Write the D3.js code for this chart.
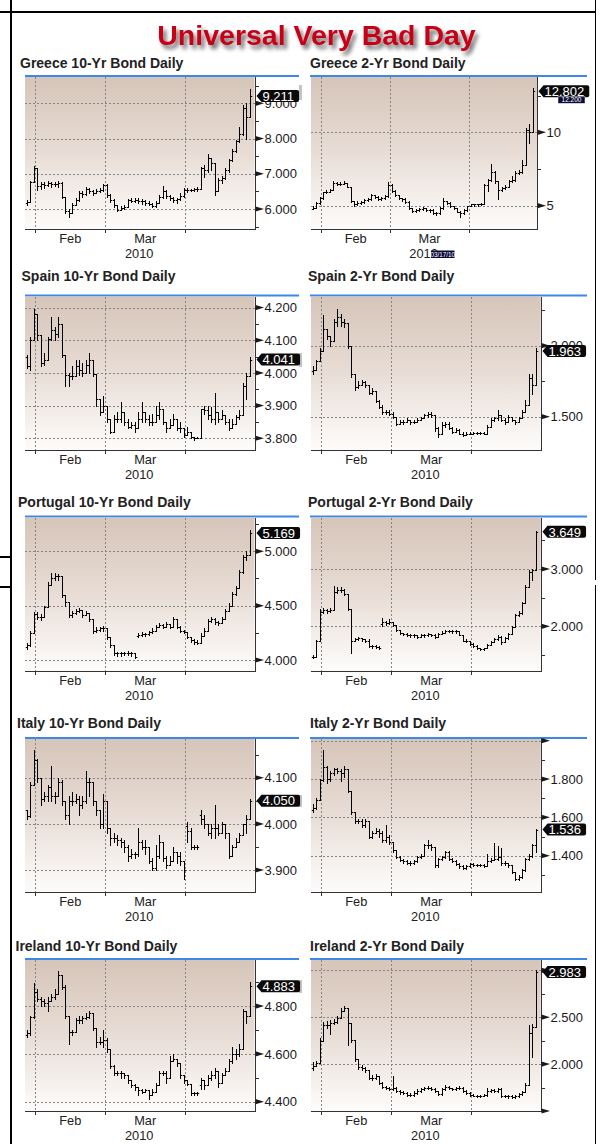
<!DOCTYPE html>
<html><head><meta charset="utf-8">
<script src="https://cdn.jsdelivr.net/npm/d3@7"></script>
<style>html,body{margin:0;padding:0;background:#fff;}svg{display:block;font-family:"Liberation Sans",Arial,Helvetica,sans-serif;}</style>
</head><body>
<svg id="c" width="603" height="1144"></svg>
<script>
// ---------- categories ----------
const dates = ["2010-01-27","2010-01-28","2010-01-29",
"2010-02-01","2010-02-02","2010-02-03","2010-02-04","2010-02-05","2010-02-08","2010-02-09","2010-02-10","2010-02-11","2010-02-12",
"2010-02-15","2010-02-16","2010-02-17","2010-02-18","2010-02-19","2010-02-22","2010-02-23","2010-02-24","2010-02-25","2010-02-26",
"2010-03-01","2010-03-02","2010-03-03","2010-03-04","2010-03-05","2010-03-08","2010-03-09","2010-03-10","2010-03-11","2010-03-12",
"2010-03-15","2010-03-16","2010-03-17","2010-03-18","2010-03-19","2010-03-22","2010-03-23","2010-03-24","2010-03-25","2010-03-26",
"2010-03-29","2010-03-30","2010-03-31",
"2010-04-01","2010-04-02","2010-04-05","2010-04-06","2010-04-07","2010-04-08","2010-04-09","2010-04-12","2010-04-13","2010-04-14",
"2010-04-15","2010-04-16","2010-04-19","2010-04-20","2010-04-21","2010-04-22","2010-04-23","2010-04-26","2010-04-27"];
const monthStarts = ["2010-02-01","2010-03-01","2010-04-01"];
const monthLabels = ["Feb","Mar"];
const yearLabel = "2010";
const chartTitle = "Universal Very Bad Day";

// ---------- Greece 10-Yr ----------
const greece10Close = [6.21,6.78,7.15,6.65,6.72,6.68,6.74,6.70,6.72,6.75,6.35,5.95,5.88,6.12,6.25,6.45,6.42,6.58,6.50,6.45,6.52,6.55,6.68,6.40,6.25,6.10,5.98,6.02,6.05,6.25,6.24,6.26,6.22,6.24,6.18,6.15,6.08,6.18,6.35,6.52,6.38,6.32,6.25,6.28,6.38,6.55,6.55,6.55,6.56,6.58,7.15,7.12,7.45,7.30,6.50,6.82,6.88,7.10,7.38,7.65,7.92,8.12,8.88,8.60,9.211];
const greece10High = [6.25,6.80,7.22,7.05,6.78,6.78,6.80,6.78,6.76,6.80,6.78,6.12,6.00,6.18,6.30,6.50,6.50,6.62,6.60,6.55,6.58,6.60,6.72,6.70,6.42,6.28,6.12,6.08,6.10,6.28,6.30,6.32,6.30,6.28,6.26,6.22,6.18,6.22,6.40,6.65,6.55,6.40,6.35,6.32,6.45,6.60,6.60,6.58,6.60,6.62,7.20,7.25,7.55,7.45,7.10,6.88,6.95,7.15,7.42,7.70,7.95,8.34,8.95,9.00,9.40];
const greece10Low = [6.12,6.20,6.78,6.55,6.58,6.60,6.65,6.62,6.64,6.62,6.30,5.88,5.78,5.92,6.10,6.22,6.35,6.40,6.45,6.40,6.44,6.48,6.50,6.35,6.20,6.05,5.95,5.96,6.00,6.05,6.20,6.20,6.18,6.15,6.12,6.10,6.05,6.06,6.16,6.30,6.32,6.26,6.20,6.18,6.25,6.35,6.48,6.50,6.52,6.52,6.58,6.90,7.05,7.10,6.40,6.50,6.75,6.85,7.05,7.35,7.62,7.90,8.10,8.00,8.60];
const greece10Gaps = {0: 6.18};

// ---------- Greece 2-Yr ----------
const greece2Close = [4.85,5.20,5.50,5.90,5.95,6.07,6.57,6.50,6.50,6.57,6.30,5.30,5.10,5.20,5.25,5.40,5.45,5.73,5.62,5.45,5.50,5.65,6.40,6.00,5.70,5.50,5.45,5.27,4.82,4.66,4.70,4.77,4.82,4.70,4.70,4.48,4.48,4.82,5.30,5.20,4.95,4.82,4.60,4.50,4.70,4.95,5.10,5.10,5.10,5.15,6.40,6.75,7.30,6.65,6.10,6.20,6.30,6.65,6.75,7.20,7.30,7.80,10.15,10.05,12.802];
const greece2High = [4.95,5.25,5.60,5.95,6.05,6.15,6.65,6.60,6.62,6.65,6.55,5.90,5.35,5.30,5.35,5.45,5.55,5.80,5.75,5.65,5.60,5.75,6.64,6.45,6.05,5.75,5.55,5.50,5.30,4.85,4.80,4.85,4.90,4.85,4.80,4.75,4.60,4.90,5.55,5.35,5.25,5.00,4.85,4.65,4.75,5.00,5.15,5.15,5.15,5.20,6.50,6.85,7.84,7.35,6.70,6.30,6.40,6.75,7.05,7.35,7.45,8.10,10.30,10.57,13.00];
const greece2Low = [4.75,4.85,5.15,5.45,5.85,5.90,6.05,6.40,6.40,6.45,6.25,5.25,5.00,5.05,5.15,5.20,5.35,5.40,5.55,5.40,5.40,5.45,5.60,5.95,5.65,5.45,5.35,5.20,4.75,4.60,4.60,4.65,4.70,4.65,4.60,4.45,4.40,4.45,4.80,5.10,4.90,4.75,4.55,4.25,4.45,4.65,4.95,5.00,5.00,5.05,5.10,6.00,6.70,6.55,5.44,6.00,6.15,6.25,6.60,6.70,7.15,7.25,7.75,9.25,10.05];
const greece2Gaps = {0: 4.80};

// ---------- Spain 10-Yr ----------
const spain10Close = [4.02,4.10,4.18,4.115,4.03,4.04,4.105,4.13,4.12,4.15,4.055,3.995,3.99,3.99,4.02,4.01,4.00,4.025,4.04,3.998,3.92,3.88,3.90,3.86,3.82,3.86,3.86,3.88,3.85,3.835,3.84,3.83,3.86,3.88,3.86,3.85,3.85,3.87,3.89,3.85,3.83,3.84,3.86,3.83,3.83,3.81,3.82,3.805,3.80,3.80,3.89,3.885,3.87,3.86,3.88,3.86,3.87,3.85,3.83,3.845,3.865,3.87,3.96,3.99,4.041];
const spain10High = [4.055,4.11,4.195,4.15,4.11,4.06,4.11,4.17,4.14,4.17,4.14,4.04,4.00,4.02,4.04,4.04,4.03,4.04,4.06,4.04,3.99,3.92,3.93,3.89,3.86,3.87,3.88,3.91,3.88,3.86,3.85,3.85,3.88,3.91,3.88,3.87,3.875,3.90,3.91,3.89,3.85,3.86,3.875,3.86,3.85,3.83,3.835,3.82,3.805,3.805,3.89,3.90,3.90,3.895,3.94,3.88,3.885,3.87,3.86,3.86,3.87,3.885,3.97,4.00,4.05];
const spain10Low = [4.015,4.01,4.12,4.10,4.02,4.025,4.04,4.10,4.10,4.11,4.05,3.96,3.96,3.98,3.99,3.995,3.99,4.00,4.00,3.99,3.90,3.87,3.88,3.85,3.815,3.83,3.85,3.85,3.84,3.83,3.83,3.82,3.84,3.85,3.85,3.84,3.84,3.85,3.86,3.845,3.82,3.83,3.84,3.825,3.82,3.805,3.81,3.80,3.795,3.80,3.84,3.875,3.86,3.85,3.845,3.85,3.86,3.845,3.825,3.84,3.86,3.86,3.87,3.92,3.99];
const spain10Gaps = {0: 4.05};

// ---------- Spain 2-Yr ----------
const spain2Close = [1.83,1.89,1.96,2.12,2.07,2.03,2.17,2.20,2.17,2.16,2.00,1.80,1.71,1.72,1.745,1.72,1.67,1.68,1.61,1.57,1.53,1.535,1.52,1.50,1.45,1.46,1.46,1.475,1.46,1.46,1.48,1.49,1.51,1.52,1.51,1.42,1.38,1.44,1.45,1.42,1.395,1.405,1.38,1.37,1.38,1.38,1.385,1.385,1.385,1.38,1.43,1.48,1.49,1.51,1.48,1.46,1.50,1.48,1.46,1.49,1.53,1.58,1.77,1.72,1.963];
const spain2High = [1.86,1.90,1.98,2.215,2.12,2.07,2.19,2.256,2.22,2.19,2.16,1.99,1.80,1.75,1.76,1.75,1.72,1.70,1.68,1.62,1.58,1.55,1.55,1.53,1.50,1.48,1.48,1.49,1.48,1.48,1.49,1.50,1.52,1.535,1.53,1.51,1.43,1.46,1.46,1.46,1.43,1.42,1.41,1.39,1.39,1.39,1.39,1.39,1.39,1.39,1.44,1.49,1.50,1.545,1.51,1.49,1.51,1.50,1.48,1.50,1.55,1.62,1.80,1.80,1.98];
const spain2Low = [1.80,1.83,1.89,1.96,2.05,2.00,2.03,2.14,2.14,2.13,1.98,1.78,1.69,1.70,1.72,1.71,1.66,1.66,1.60,1.56,1.52,1.52,1.51,1.49,1.44,1.445,1.45,1.46,1.45,1.455,1.46,1.48,1.49,1.50,1.50,1.40,1.36,1.38,1.43,1.41,1.385,1.39,1.375,1.365,1.37,1.375,1.38,1.38,1.38,1.375,1.38,1.43,1.47,1.48,1.47,1.45,1.46,1.47,1.45,1.46,1.49,1.53,1.58,1.66,1.72];
const spain2Gaps = {0: 1.82};

// ---------- Portugal 10-Yr ----------
const portugal10Close = [4.14,4.25,4.42,4.40,4.40,4.49,4.69,4.75,4.77,4.77,4.60,4.53,4.41,4.43,4.45,4.46,4.41,4.43,4.38,4.27,4.28,4.29,4.29,4.21,4.14,4.06,4.06,4.06,4.06,4.065,4.06,4.03,4.23,4.24,4.24,4.26,4.27,4.30,4.32,4.30,4.33,4.30,4.38,4.30,4.27,4.26,4.21,4.18,4.17,4.16,4.22,4.27,4.36,4.38,4.35,4.34,4.38,4.45,4.50,4.61,4.66,4.81,4.95,4.97,5.169];
const portugal10High = [4.16,4.27,4.44,4.44,4.42,4.50,4.72,4.80,4.80,4.79,4.77,4.60,4.53,4.45,4.47,4.48,4.46,4.45,4.43,4.38,4.30,4.30,4.31,4.29,4.21,4.14,4.07,4.07,4.07,4.08,4.07,4.06,4.25,4.26,4.25,4.27,4.29,4.32,4.34,4.33,4.35,4.33,4.40,4.38,4.31,4.28,4.26,4.21,4.19,4.18,4.25,4.29,4.38,4.40,4.39,4.36,4.40,4.47,4.52,4.63,4.68,4.83,4.97,5.00,5.20];
const portugal10Low = [4.10,4.13,4.25,4.38,4.37,4.40,4.49,4.69,4.74,4.74,4.58,4.50,4.40,4.40,4.42,4.44,4.40,4.41,4.36,4.25,4.26,4.27,4.27,4.19,4.12,4.05,4.04,4.04,4.05,4.05,4.04,4.02,4.21,4.22,4.22,4.23,4.25,4.27,4.30,4.29,4.30,4.29,4.30,4.29,4.26,4.25,4.20,4.17,4.15,4.15,4.16,4.22,4.27,4.35,4.33,4.32,4.34,4.38,4.45,4.50,4.60,4.66,4.80,4.92,4.97];
const portugal10Gaps = {0: 4.12, 32: 4.22};

// ---------- Portugal 2-Yr ----------
const portugal2Close = [1.47,1.74,2.25,2.28,2.26,2.28,2.60,2.63,2.63,2.57,2.31,1.75,1.77,1.79,1.77,1.75,1.65,1.65,1.64,1.62,2.08,2.05,2.08,2.02,1.94,1.88,1.86,1.85,1.84,1.84,1.82,1.84,1.84,1.86,1.85,1.82,1.86,1.89,1.91,1.92,1.91,1.91,1.85,1.75,1.74,1.69,1.66,1.62,1.60,1.62,1.67,1.73,1.77,1.82,1.73,1.79,1.87,1.99,2.20,2.23,2.40,2.69,2.95,2.98,3.649];
const portugal2High = [1.50,1.76,2.30,2.32,2.30,2.32,2.70,2.68,2.68,2.65,2.57,2.31,1.80,1.82,1.80,1.78,1.77,1.67,1.67,1.66,2.14,2.10,2.12,2.08,2.02,1.94,1.89,1.88,1.86,1.86,1.85,1.86,1.86,1.88,1.87,1.86,1.88,1.91,1.93,1.94,1.93,1.93,1.92,1.85,1.77,1.75,1.70,1.67,1.63,1.63,1.69,1.75,1.80,1.84,1.83,1.81,1.89,2.01,2.22,2.26,2.43,2.72,2.98,3.00,3.67];
const portugal2Low = [1.44,1.47,1.74,2.24,2.23,2.25,2.28,2.58,2.60,2.55,2.29,1.53,1.74,1.76,1.75,1.73,1.64,1.63,1.62,1.61,2.00,2.03,2.04,2.00,1.92,1.86,1.84,1.83,1.82,1.82,1.80,1.81,1.82,1.83,1.83,1.80,1.82,1.86,1.88,1.90,1.89,1.89,1.84,1.74,1.72,1.68,1.64,1.60,1.58,1.59,1.62,1.67,1.73,1.76,1.69,1.72,1.78,1.87,1.98,2.18,2.22,2.40,2.69,2.80,2.98];
const portugal2Gaps = {0: 1.46, 20: 2.04};

// ---------- Italy 10-Yr ----------
const italy10Close = [4.017,4.084,4.138,4.10,4.055,4.06,4.08,4.06,4.06,4.09,4.05,4.02,4.05,4.05,4.055,4.04,4.05,4.09,4.09,4.05,4.03,4.00,4.05,3.99,3.97,3.97,3.965,3.96,3.95,3.93,3.935,3.935,3.96,3.95,3.95,3.92,3.905,3.93,3.96,3.925,3.91,3.92,3.94,3.93,3.92,3.90,3.985,3.95,3.95,3.95,4.01,4.00,3.98,3.99,3.99,3.98,4.00,3.98,3.93,3.95,3.96,3.975,4.00,4.01,4.050];
const italy10High = [4.03,4.09,4.16,4.14,4.10,4.07,4.085,4.125,4.07,4.10,4.095,4.05,4.06,4.07,4.065,4.06,4.06,4.115,4.10,4.09,4.05,4.03,4.065,4.05,3.99,3.98,3.975,3.97,3.965,3.955,3.945,3.94,3.99,3.965,3.965,3.95,3.925,3.955,3.975,3.96,3.93,3.93,3.95,3.94,3.94,3.92,4.005,3.99,3.955,3.955,4.03,4.02,4.00,4.00,4.04,4.00,4.005,4.00,3.98,3.955,3.97,3.98,4.00,4.02,4.055];
const italy10Low = [4.01,4.015,4.085,4.09,4.04,4.05,4.05,4.05,4.045,4.06,4.04,4.01,4.00,4.04,4.045,4.02,4.035,4.045,4.06,4.04,4.02,3.99,3.99,3.98,3.955,3.96,3.955,3.95,3.94,3.92,3.925,3.925,3.93,3.945,3.935,3.915,3.90,3.90,3.925,3.92,3.905,3.91,3.92,3.915,3.91,3.88,3.96,3.945,3.945,3.945,4.00,3.99,3.975,3.97,3.97,3.975,3.98,3.97,3.925,3.93,3.95,3.96,3.975,3.98,4.01];
const italy10Gaps = {0: 4.03, 46: 3.995, 50: 4.02};

// ---------- Italy 2-Yr ----------
const italy2Close = [1.647,1.69,1.795,1.865,1.80,1.83,1.85,1.84,1.83,1.85,1.74,1.63,1.58,1.58,1.56,1.58,1.50,1.52,1.53,1.52,1.48,1.50,1.47,1.43,1.395,1.38,1.37,1.36,1.36,1.37,1.395,1.40,1.455,1.455,1.445,1.35,1.385,1.395,1.42,1.385,1.37,1.355,1.345,1.335,1.345,1.355,1.35,1.35,1.35,1.345,1.37,1.38,1.385,1.395,1.36,1.36,1.35,1.315,1.28,1.29,1.325,1.385,1.40,1.455,1.536];
const italy2High = [1.67,1.70,1.80,1.95,1.87,1.84,1.86,1.86,1.85,1.87,1.85,1.74,1.63,1.59,1.59,1.59,1.58,1.53,1.545,1.54,1.53,1.56,1.51,1.47,1.43,1.40,1.385,1.375,1.37,1.38,1.40,1.41,1.46,1.48,1.46,1.445,1.39,1.40,1.425,1.425,1.39,1.375,1.36,1.35,1.35,1.36,1.36,1.355,1.355,1.355,1.41,1.39,1.465,1.45,1.44,1.37,1.36,1.35,1.315,1.30,1.33,1.39,1.41,1.46,1.54];
const italy2Low = [1.63,1.645,1.69,1.79,1.78,1.79,1.82,1.83,1.79,1.81,1.73,1.62,1.57,1.57,1.55,1.55,1.49,1.49,1.52,1.50,1.47,1.47,1.46,1.42,1.39,1.37,1.36,1.355,1.35,1.355,1.365,1.39,1.40,1.44,1.43,1.34,1.34,1.38,1.39,1.38,1.365,1.35,1.335,1.33,1.33,1.34,1.345,1.345,1.345,1.34,1.345,1.365,1.375,1.38,1.35,1.35,1.34,1.31,1.275,1.275,1.285,1.32,1.38,1.395,1.42];
const italy2Gaps = {0: 1.64};

// ---------- Ireland 10-Yr ----------
const ireland10Close = [4.686,4.753,4.86,4.83,4.82,4.815,4.82,4.84,4.85,4.93,4.88,4.76,4.69,4.69,4.74,4.74,4.75,4.755,4.77,4.71,4.65,4.65,4.66,4.62,4.55,4.52,4.52,4.52,4.51,4.49,4.47,4.46,4.45,4.44,4.45,4.43,4.44,4.47,4.52,4.52,4.50,4.57,4.58,4.56,4.51,4.49,4.475,4.435,4.435,4.435,4.49,4.47,4.50,4.51,4.53,4.48,4.51,4.53,4.57,4.60,4.60,4.62,4.78,4.76,4.883];
const ireland10High = [4.70,4.76,4.895,4.87,4.84,4.83,4.84,4.85,4.87,4.945,4.93,4.89,4.76,4.70,4.75,4.76,4.76,4.77,4.78,4.77,4.71,4.67,4.70,4.665,4.62,4.555,4.53,4.53,4.52,4.51,4.49,4.475,4.46,4.455,4.455,4.45,4.455,4.48,4.53,4.53,4.53,4.59,4.60,4.58,4.56,4.51,4.49,4.475,4.44,4.44,4.50,4.49,4.51,4.53,4.54,4.53,4.52,4.54,4.58,4.63,4.62,4.64,4.79,4.78,4.90];
const ireland10Low = [4.67,4.68,4.75,4.82,4.80,4.80,4.78,4.82,4.83,4.85,4.87,4.75,4.64,4.68,4.69,4.73,4.73,4.745,4.75,4.70,4.63,4.64,4.63,4.61,4.54,4.51,4.51,4.50,4.50,4.48,4.46,4.45,4.43,4.435,4.44,4.41,4.43,4.44,4.47,4.51,4.48,4.50,4.57,4.55,4.50,4.48,4.47,4.43,4.43,4.43,4.455,4.455,4.47,4.49,4.50,4.46,4.495,4.51,4.53,4.56,4.58,4.59,4.62,4.73,4.76];
const ireland10Gaps = {0: 4.68, 50: 4.47};

// ---------- Ireland 2-Yr ----------
const ireland2Close = [1.98,2.01,2.25,2.42,2.42,2.44,2.45,2.49,2.57,2.60,2.44,2.26,2.05,1.97,1.96,1.94,1.85,1.85,1.87,1.80,1.76,1.74,1.73,1.74,1.71,1.70,1.69,1.67,1.67,1.69,1.71,1.73,1.74,1.75,1.73,1.71,1.68,1.73,1.76,1.74,1.73,1.74,1.75,1.71,1.69,1.67,1.665,1.655,1.665,1.67,1.71,1.72,1.71,1.73,1.655,1.655,1.655,1.65,1.655,1.68,1.70,1.78,2.33,2.40,2.983];
const ireland2High = [2.02,2.03,2.28,2.45,2.46,2.47,2.48,2.51,2.60,2.62,2.60,2.44,2.26,2.05,1.99,1.97,1.94,1.88,1.89,1.87,1.81,1.77,1.76,1.87,1.76,1.72,1.71,1.70,1.69,1.71,1.73,1.75,1.76,1.77,1.76,1.74,1.71,1.74,1.78,1.77,1.75,1.76,1.77,1.76,1.72,1.70,1.68,1.67,1.67,1.68,1.74,1.73,1.73,1.75,1.74,1.67,1.67,1.67,1.67,1.69,1.71,1.80,2.42,2.43,3.00];
const ireland2Low = [1.94,1.98,2.01,2.25,2.38,2.32,2.43,2.44,2.49,2.57,2.20,2.24,2.03,1.95,1.94,1.92,1.84,1.83,1.84,1.79,1.75,1.73,1.72,1.72,1.70,1.68,1.68,1.66,1.66,1.66,1.68,1.70,1.72,1.73,1.72,1.70,1.67,1.67,1.72,1.73,1.72,1.72,1.73,1.70,1.68,1.66,1.655,1.645,1.65,1.655,1.66,1.70,1.70,1.70,1.645,1.645,1.64,1.64,1.64,1.65,1.67,1.70,1.78,2.08,2.40];
const ireland2Gaps = {0: 1.96};

// ---------- axis tick values ----------
const greece10Ticks = [6,7,8,9],            greece10Minor = [5.5,6.5,7.5,8.5,9.5];
const greece2Ticks = [5,10],                greece2Minor = [7.5,12.5];
const spain10Ticks = [3.8,3.9,4.0,4.1,4.2], spain10Minor = [3.85,3.95,4.05,4.15];
const spain2Ticks = [1.5,2.0],              spain2Minor = [1.75,2.25];
const portugal10Ticks = [4.0,4.5,5.0],      portugal10Minor = [4.25,4.75,5.25];
const portugal2Ticks = [2,3],               portugal2Minor = [1.5,2.5,3.5];
const italy10Ticks = [3.9,4.0,4.1],         italy10Minor = [3.95,4.05,4.15];
const italy2Ticks = [1.4,1.6,1.8,2.0],      italy2Minor = [1.3,1.5,1.7,1.9];
const ireland10Ticks = [4.4,4.6,4.8],       ireland10Minor = [4.5,4.7,4.9];
const ireland2Ticks = [1.5,2.0,2.5,3.0],    ireland2Minor = [1.75,2.25,2.75];

const panels = [
 {title:"Greece 10-Yr Bond Daily",   c:greece10Close,  h:greece10High,  l:greece10Low,  g:greece10Gaps,  major:greece10Ticks,  minor:greece10Minor,  fmt:".3f", domain:[5.432,9.747], row:0,col:0,tx:20},
 {title:"Greece 2-Yr Bond Daily",    c:greece2Close,   h:greece2High,   l:greece2Low,   g:greece2Gaps,   major:greece2Ticks,   minor:greece2Minor,   fmt:"d",   domain:[3.413,13.767],row:0,col:1,tx:310},
 {title:"Spain 10-Yr Bond Daily",    c:spain10Close,   h:spain10High,   l:spain10Low,   g:spain10Gaps,   major:spain10Ticks,   minor:spain10Minor,   fmt:".3f", domain:[3.764,4.234], row:1,col:0,tx:21.5},
 {title:"Spain 2-Yr Bond Daily",     c:spain2Close,    h:spain2High,    l:spain2Low,    g:spain2Gaps,    major:spain2Ticks,    minor:spain2Minor,    fmt:".3f", domain:[1.2655,2.346],row:1,col:1,tx:308},
 {title:"Portugal 10-Yr Bond Daily", c:portugal10Close,h:portugal10High,l:portugal10Low,g:portugal10Gaps,major:portugal10Ticks,minor:portugal10Minor,fmt:".3f", domain:[3.899,5.311], row:2,col:0,tx:18},
 {title:"Portugal 2-Yr Bond Daily",  c:portugal2Close, h:portugal2High, l:portugal2Low, g:portugal2Gaps, major:portugal2Ticks, minor:portugal2Minor, fmt:".3f", domain:[1.22,3.899],  row:2,col:1,tx:308},
 {title:"Italy 10-Yr Bond Daily",    c:italy10Close,   h:italy10High,   l:italy10Low,   g:italy10Gaps,   major:italy10Ticks,   minor:italy10Minor,   fmt:".3f", domain:[3.853,4.184], row:3,col:0,tx:17},
 {title:"Italy 2-Yr Bond Daily",     c:italy2Close,    h:italy2High,    l:italy2Low,    g:italy2Gaps,    major:italy2Ticks,    minor:italy2Minor,    fmt:".3f", domain:[1.212,2.009], row:3,col:1,tx:310, hide:[2.0]},
 {title:"Ireland 10-Yr Bond Daily",  c:ireland10Close, h:ireland10High, l:ireland10Low, g:ireland10Gaps, major:ireland10Ticks, minor:ireland10Minor, fmt:".3f", domain:[4.361,4.993], row:4,col:0,tx:15.5},
 {title:"Ireland 2-Yr Bond Daily",   c:ireland2Close,  h:ireland2High,  l:ireland2Low,  g:ireland2Gaps,  major:ireland2Ticks,  minor:ireland2Minor,  fmt:".3f", domain:[1.5,3.11],    row:4,col:1,tx:310, hide:[1.5]}
];

// ---------- layout ----------
const rows = [{t:68.3,top:77,bot:229},{t:281,top:296.5,bot:450},{t:507,top:517.5,bot:671},{t:728,top:739,bot:891.7},{t:951,top:960,bot:1111}];
const cols = [{x0:25,x1:254.5,blue:[25,299]},{x0:311,x1:540.7,blue:[310,587]}];

const svg = d3.select("#c");
const defs = svg.append("defs");
const grad = defs.append("linearGradient").attr("id","bg").attr("x1",0).attr("y1",0).attr("x2",0).attr("y2",1);
grad.append("stop").attr("offset","0%").attr("stop-color","#d6c5b9");
grad.append("stop").attr("offset","45%").attr("stop-color","#e6dad2");
grad.append("stop").attr("offset","100%").attr("stop-color","#fdfcfb");
const f = defs.append("filter").attr("id","sh").attr("x","-10%").attr("y","-40%").attr("width","130%").attr("height","190%");
f.append("feGaussianBlur").attr("in","SourceAlpha").attr("stdDeviation",2.2).attr("result","b");
f.append("feOffset").attr("in","b").attr("dx",3).attr("dy",4).attr("result","o");
f.append("feComponentTransfer").attr("in","o").attr("result","s").append("feFuncA").attr("type","linear").attr("slope",0.6);
const fm = f.append("feMerge"); fm.append("feMergeNode").attr("in","s"); fm.append("feMergeNode").attr("in","SourceGraphic");

// frame lines of the page
const frame = svg.append("g").attr("stroke","#000").attr("stroke-width",1.6).attr("shape-rendering","crispEdges");
frame.append("line").attr("x1",0).attr("x2",596).attr("y1",12).attr("y2",12);
frame.append("line").attr("x1",11).attr("x2",11).attr("y1",0).attr("y2",1144);
frame.append("line").attr("x1",595.5).attr("x2",595.5).attr("y1",0).attr("y2",580);
frame.append("line").attr("x1",595.5).attr("x2",595.5).attr("y1",585).attr("y2",1144);
frame.append("line").attr("x1",0).attr("x2",11).attr("y1",557).attr("y2",557);
frame.append("line").attr("x1",0).attr("x2",11).attr("y1",587).attr("y2",587);
[[85,15],[353,14],[795,12],[980,13]].forEach(([yy,hh]) =>
  svg.append("rect").attr("x",299).attr("y",yy).attr("width",3).attr("height",hh).attr("fill","#c4c4c4"));

// main title
svg.append("text").attr("x",316.5).attr("y",45).attr("text-anchor","middle")
  .attr("font-size",28.5).attr("font-weight","bold").attr("fill","#c60018")
  .attr("filter","url(#sh)").text(chartTitle);

panels.forEach(p => {
  const R = rows[p.row], C = cols[p.col];
  const x0 = C.x0, x1 = (p.row===0 && p.col===1) ? 537.3 : C.x1;
  const g = svg.append("g");
  const x = d3.scaleBand().domain(dates).range([x0, x1 - 3]).padding(0);
  const step = x.bandwidth();
  const y = d3.scaleLinear().domain(p.domain).range([R.bot, R.top]);

  // title + blue rule
  g.append("text").attr("x",p.tx).attr("y",R.t).attr("font-size",14).attr("font-weight","bold").attr("fill","#222").text(p.title);
  g.append("line").attr("x1",C.blue[0]).attr("x2",C.blue[1]).attr("y1",R.top-1).attr("y2",R.top-1)
    .attr("stroke","#3d87e8").attr("stroke-width",2);

  // plot background
  g.append("rect").attr("x",x0).attr("y",R.top).attr("width",x1-x0).attr("height",R.bot-R.top).attr("fill","url(#bg)");

  // grid
  const grid = g.append("g").attr("stroke","#858585").attr("stroke-width",1).attr("stroke-dasharray","2,2").attr("shape-rendering","crispEdges");
  p.major.forEach(v => grid.append("line").attr("x1",x0).attr("x2",x1).attr("y1",Math.round(y(v))+0.5).attr("y2",Math.round(y(v))+0.5));
  monthStarts.forEach(d => grid.append("line").attr("x1",Math.round(x(d))+0.5).attr("x2",Math.round(x(d))+0.5).attr("y1",R.top).attr("y2",R.bot));

  // OHLC bars
  let path = "";
  const tick = step * 0.48;
  p.c.forEach((c, i) => {
    const o = (i in p.g) ? p.g[i] : p.c[i-1];
    const hi = Math.max(p.h[i], o, c), lo = Math.min(p.l[i], o, c);
    const cx = Math.round(x(dates[i]) + step/2) + 0.5;
    path += `M${cx},${Math.round(y(hi))}V${Math.round(y(lo))+1}`;
    path += `M${cx - tick},${Math.round(y(o))+0.5}H${cx}`;
    path += `M${cx},${Math.round(y(c))+0.5}H${cx + tick}`;
  });
  g.append("path").attr("d",path).attr("fill","none").attr("stroke","#000").attr("stroke-width",1);

  // axes lines
  const ax = g.append("g").attr("stroke","#333").attr("stroke-width",1).attr("shape-rendering","crispEdges");
  ax.append("line").attr("x1",Math.round(x1)+0.5).attr("x2",Math.round(x1)+0.5).attr("y1",R.top).attr("y2",R.bot+1);
  ax.append("line").attr("x1",x0).attr("x2",x1).attr("y1",Math.round(R.bot)+0.5).attr("y2",Math.round(R.bot)+0.5);
  monthStarts.forEach(d => ax.append("line").attr("x1",Math.round(x(d))+0.5).attr("x2",Math.round(x(d))+0.5).attr("y1",R.bot).attr("y2",R.bot+4));
  p.minor.forEach(v => { const yy = y(v); if (yy >= R.top - 1 && yy <= R.bot + 1)
    ax.append("line").attr("x1",x1).attr("x2",x1+4).attr("y1",Math.round(yy)+0.5).attr("y2",Math.round(yy)+0.5); });

  // major tick arrows + labels
  const ax1 = Math.round(x1) + 0.5;
  const fmt = d3.format(p.fmt);
  p.major.forEach(v => {
    const yy = y(v);
    g.append("path").attr("d",`M${ax1},${yy-2.6}L${ax1+8.5},${yy}L${ax1},${yy+2.6}Z`).attr("fill","#1a1a1a");
    if (!(p.hide && p.hide.includes(v)))
      g.append("text").attr("x",ax1+9).attr("y",yy).attr("dy","0.36em").attr("font-size",13).attr("fill","#1a1a1a").text(fmt(v));
  });

  // month labels
  const lab = g.append("g").attr("font-size",12.8).attr("fill","#222").attr("text-anchor","middle");
  monthLabels.forEach((m, k) => {
    const cx = (x(monthStarts[k]) + x(monthStarts[k+1])) / 2;
    lab.append("text").attr("x",cx).attr("y",R.bot+14).text(m);
  });
  const marX = (x(monthStarts[1]) + x(monthStarts[2])) / 2 - 6;
  lab.append("text").attr("x",marX).attr("y",R.bot+29).text(yearLabel);

  // last value flag
  const last = p.c[p.c.length-1];
  const ly = y(last);
  const flag = g.append("g");
  const shape = flag.append("path").attr("fill","#0a0a0a");
  const t = flag.append("text").attr("x",ax1+7).attr("y",ly).attr("dy","0.36em").attr("font-size",13).attr("fill","#fff").text(d3.format(".3f")(last));
  const w = t.node().getComputedTextLength();
  const bx = ax1 + 1, bh = 6;
  shape.attr("d",`M${bx},${ly}L${bx+5},${ly-bh}H${bx+w+9}Q${bx+w+11},${ly-bh} ${bx+w+11},${ly-bh+2}V${ly+bh-2}Q${bx+w+11},${ly+bh} ${bx+w+9},${ly+bh}H${bx+5}Z`);

  if (p.row === 0 && p.col === 1) {
    // small secondary tags
    const g2 = g.append("g");
    g2.append("rect").attr("x",558).attr("y",96.8).attr("width",27).attr("height",6.6).attr("fill","#0b0b3a").attr("stroke","#fff").attr("stroke-width",0.5);
    g2.append("text").attr("x",571.5).attr("y",100.1).attr("dy","0.35em").attr("text-anchor","middle").attr("font-size",6.5).attr("fill","#fff").text("12.200");
    g2.append("rect").attr("x",431).attr("y",250.5).attr("width",23.5).attr("height",7.5).attr("fill","#0b0b3a");
    g2.append("text").attr("x",442.7).attr("y",254.3).attr("dy","0.35em").attr("text-anchor","middle").attr("font-size",6.3).attr("fill","#fff").text("03/17/10");
  }
});
</script>
</body></html>
